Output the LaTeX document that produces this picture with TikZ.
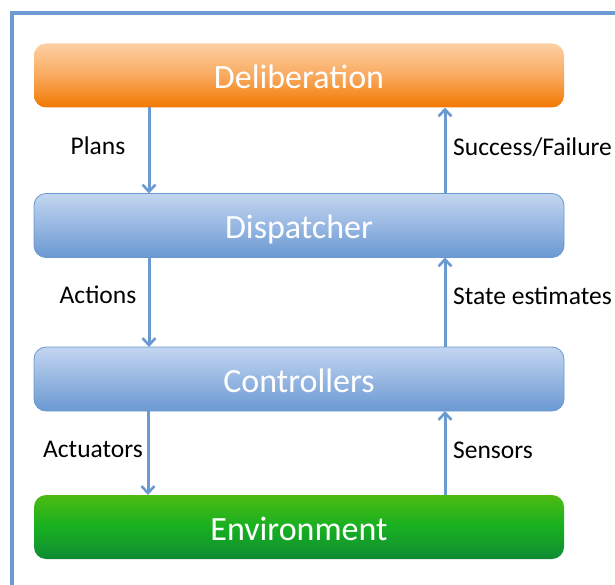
\documentclass[tikz,border=0pt]{standalone}
\usepackage{fontspec}
\setmainfont{Carlito}
\usetikzlibrary{arrows.meta}
\definecolor{framec}{HTML}{6B9BD2}
\definecolor{arrc}{HTML}{6A9AD0}
\definecolor{bluetop}{HTML}{C3D6F0}
\definecolor{bluemid}{HTML}{97B7E2}
\definecolor{bluebot}{HTML}{6A99D1}
\definecolor{blueedge}{HTML}{6B98CE}
\definecolor{orgtop}{HTML}{FDD0A4}
\definecolor{orgmid}{HTML}{F9A95E}
\definecolor{orgbot}{HTML}{F27800}
\definecolor{grntop}{HTML}{4DBB12}
\definecolor{grnmid}{HTML}{17B021}
\definecolor{grnbot}{HTML}{0F8B33}
\begin{document}
\begin{tikzpicture}[x=1pt,y=-1pt,
  box/.style={rounded corners=12pt, minimum width=530pt, minimum height=64pt,
    inner sep=0pt, outer sep=0pt, text=white, text height=27pt, text depth=0pt,
    font=\fontsize{34}{36}\selectfont},
  bluebox/.style={box, top color=bluetop, bottom color=bluebot, middle color=bluemid, draw=blueedge, line width=0.8pt},
  orgbox/.style={box, top color=orgtop, bottom color=orgbot, middle color=orgmid},
  grnbox/.style={box, top color=grntop, bottom color=grnbot, middle color=grnmid},
  arr/.style={draw=arrc, line width=3pt, -{Straight Barb[length=7pt,width=13pt,line width=2.6pt]}},
  lbl/.style={font=\fontsize{25.5}{28}\selectfont, text=black, inner sep=0pt},
]
\useasboundingbox (0,0) rectangle (615,585);
\draw[framec, line width=3.2pt] (12,640) -- (12,13) -- (660,13);

\node[orgbox] (delib) at (299,75.5) {Deliberation};
\node[bluebox] (disp) at (299,225.5) {Dispatcher};
\node[bluebox] (ctrl) at (299,379) {Controllers};
\node[grnbox] (env) at (299,527) {Environment};

\draw[arr] ([xshift=-150pt]delib.south) -- ([xshift=-150pt]disp.north);
\draw[arr] ([xshift=146pt]disp.north) -- ([xshift=146pt]delib.south);
\draw[arr] ([xshift=-150pt]disp.south) -- ([xshift=-150pt]ctrl.north);
\draw[arr] ([xshift=146pt]ctrl.north) -- ([xshift=146pt]disp.south);
\draw[arr] ([xshift=-151pt]ctrl.south) -- ([xshift=-151pt]env.north);
\draw[arr] ([xshift=146pt]env.north) -- ([xshift=146pt]ctrl.south);

\node[lbl] (plans) at (98,146) {Plans};
\node[lbl] (actions) at (98,295) {Actions};
\node[lbl] (actuators) at (93,449) {Actuators};
\node[lbl, anchor=west] (succ) at (453,147) {Success/Failure};
\node[lbl, anchor=west] (state) at (453,296) {State estimates};
\node[lbl, anchor=west] (sens) at (453,450) {Sensors};
\end{tikzpicture}
\end{document}
